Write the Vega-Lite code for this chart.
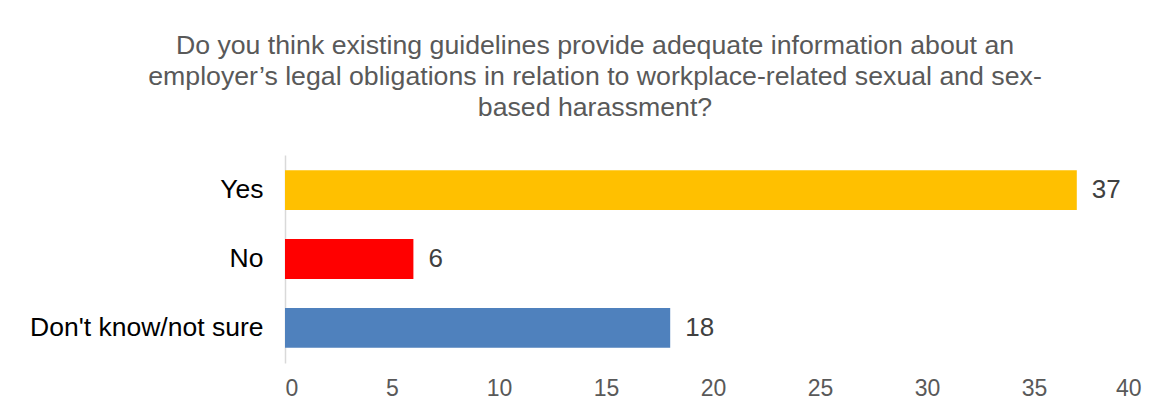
{
  "$schema": "https://vega.github.io/schema/vega-lite/v6.json",
  "autosize": {"type": "none"},
  "width": 856,
  "height": 208,
  "padding": {"left": 285, "top": 155, "right": 30, "bottom": 49},
  "background": "white",
  "title": {
    "text": ["Do you think existing guidelines provide adequate information about an", "employer’s legal obligations in relation to workplace-related sexual and sex-", "based harassment?"],
    "font": "Liberation Sans",
    "fontSize": 26.7,
    "fontWeight": "normal",
    "color": "#595959",
    "lineHeight": 31,
    "anchor": "middle",
    "dx": -118,
    "offset": 33
  },
  "data": {
    "values": [
      {"answer": "Yes", "count": 37},
      {"answer": "No", "count": 6},
      {"answer": "Don't know/not sure", "count": 18}
    ]
  },
  "encoding": {
    "y": {
      "field": "answer",
      "type": "nominal",
      "sort": ["Yes", "No", "Don't know/not sure"],
      "scale": {"paddingInner": 0.42, "paddingOuter": 0.22},
      "axis": {
        "title": null,
        "ticks": false,
        "domain": true,
        "domainColor": "#D9D9D9",
        "domainWidth": 1.5,
        "labelFont": "Liberation Sans",
        "labelFontSize": 26.5,
        "labelColor": "#000000",
        "labelPadding": 22,
        "labelLimit": 400
      }
    },
    "x": {
      "field": "count",
      "type": "quantitative",
      "scale": {"domain": [0, 40], "nice": false},
      "axis": {
        "title": null,
        "values": [0, 5, 10, 15, 20, 25, 30, 35, 40],
        "ticks": false,
        "domain": false,
        "grid": false,
        "labelFont": "Liberation Sans",
        "labelFontSize": 23,
        "labelColor": "#595959",
        "labelPadding": 14
      }
    }
  },
  "layer": [
    {
      "mark": {"type": "bar"},
      "encoding": {
        "color": {
          "field": "answer",
          "type": "nominal",
          "scale": {"domain": ["Yes", "No", "Don't know/not sure"], "range": ["#FFC000", "#FF0000", "#4F81BD"]},
          "legend": null
        }
      }
    },
    {
      "mark": {"type": "text", "align": "left", "baseline": "middle", "dx": 15, "font": "Liberation Sans", "fontSize": 26, "color": "#404040"},
      "encoding": {"text": {"field": "count", "type": "quantitative"}}
    }
  ],
  "config": {"view": {"stroke": null}}
}
